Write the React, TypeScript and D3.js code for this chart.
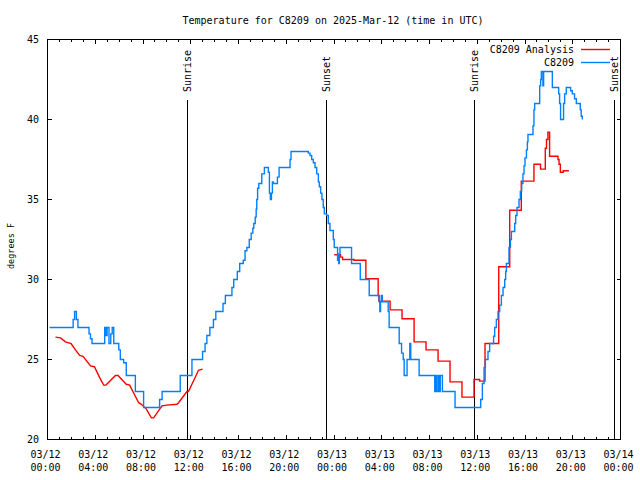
import React from "react";
import * as d3 from "d3";

const title = "Temperature for C8209 on 2025-Mar-12 (time in UTC)";
const yLabel = "degrees F";
const seriesNames = ["C8209 Analysis", "C8209"];
const seriesColors = ["#ff0000", "#0080ff"];

// hours since 2025-03-12 00:00 UTC
const sunEvents = [
  { h: 11.7, label: "Sunrise" },
  { h: 23.36, label: "Sunset" },
  { h: 35.73, label: "Sunrise" },
  { h: 47.46, label: "Sunset" },
];

const yTicks = [20, 25, 30, 35, 40, 45];

// Observations (C8209), step data
const obsHours = [
  0.17, 2.15, 2.27, 2.42, 2.55, 3.48, 3.6, 3.73, 4.79, 4.9, 4.99, 5.15, 5.3, 5.42, 5.55,
  5.97, 6.1, 6.38, 6.6, 7.36, 8.05, 9.39, 9.6, 11.12, 12.1, 12.99, 13.2, 13.35, 13.6, 13.9,
  14.1, 14.7, 14.9, 15.45, 15.6, 15.9, 16.1, 16.4, 16.55, 16.7, 16.9, 17.06, 17.2, 17.28,
  17.4, 17.48, 17.53, 17.6, 17.7, 17.95, 18.17, 18.5, 18.59, 18.67, 18.76, 18.84, 18.92,
  19.26, 19.4, 20.32, 20.4, 21.85, 21.99, 22.13, 22.27, 22.41, 22.55, 22.69, 22.77, 22.88,
  22.99, 23.1, 23.19, 23.38, 23.52, 23.66, 23.94, 24.02, 24.3, 24.35, 24.4, 24.45, 24.5,
  25.47, 26.2, 26.95, 27.79, 27.84, 27.9, 27.96, 28.05, 28.54, 28.62, 29.46, 29.66, 29.8,
  29.88, 30.12, 30.35, 30.43, 31.13, 32.44, 32.52, 32.6, 32.73, 32.8, 32.9, 33.08, 34.14,
  36.29, 36.43, 36.57, 36.68, 36.9, 37.04, 37.37, 37.46, 37.6, 37.74, 37.88, 38.02, 38.16,
  38.3, 38.38, 38.44, 38.66, 38.78, 38.86, 39.14, 39.22, 39.33, 39.5, 39.61, 39.72, 39.83,
  39.92, 40.0, 40.12, 40.2, 40.25, 40.67, 40.75, 40.81, 41.23, 41.31, 41.37, 41.5, 41.56,
  42.29, 42.82, 42.9, 42.98, 43.23, 43.32, 43.46, 43.82, 43.96, 44.15, 44.3, 44.63, 44.71,
  44.8,
];
const obsTemps = [
  27.0, 27.5, 28.0, 27.5, 27.0, 26.6, 26.3, 26.0, 27.0, 26.5, 27.0, 26.0, 26.6, 27.0, 26.0,
  25.6, 25.0, 24.8, 24.0, 23.0, 22.0, 22.5, 23.0, 24.0, 25.0, 25.5, 26.0, 26.5, 27.0, 27.5,
  28.0, 28.5, 29.0, 29.5, 30.0, 30.5, 31.0, 31.2, 31.8, 32.0, 32.5, 32.9, 33.2, 33.5,
  33.9, 34.4, 35.0, 35.7, 36.0, 36.6, 37.0, 36.7, 35.4, 35.0, 35.4, 36.1, 36.0,
  36.4, 37.0, 37.5, 38.0, 37.9, 37.75, 37.5, 37.3, 37.0, 36.6, 36.1, 35.8, 35.4,
  35.0, 34.5, 34.1, 34.0, 33.5, 33.06, 32.5, 32.0, 31.2, 31.6, 31.0, 31.6, 32.0,
  31.0, 30.0, 29.0, 28.6, 28.0, 28.6, 29.0, 28.6, 28.0, 27.0, 26.0, 25.4, 25.0,
  24.0, 25.0, 26.0, 25.0, 24.0, 23.0, 24.0, 23.0, 24.0, 23.0, 24.0, 23.0, 22.0,
  22.5, 23.5, 24.5, 25.0, 25.5, 26.0, 26.45, 27.0, 27.5, 28.0, 28.4, 29.0, 29.5,
  30.0, 30.5, 31.0, 32.0, 32.5, 33.0, 33.5, 34.0, 34.5, 35.0, 35.5, 36.0, 36.6,
  37.1, 37.6, 38.1, 38.6, 39.06, 39.6, 40.6, 41.0, 42.1, 42.5, 43.0, 42.1, 43.0,
  42.0, 41.6, 41.0, 40.0, 41.0, 41.6, 42.0, 41.8, 41.6, 41.3, 41.0, 40.6, 40.2,
  40.0,
];

// Analysis, day 1 (linear)
const anaHours1 = [
  0.67, 1.09, 1.5, 1.98, 2.34, 2.7, 2.98, 3.6, 3.93, 4.38, 4.71, 4.9, 5.69, 5.91, 6.6,
  6.88, 7.64, 7.86, 8.28, 8.7, 8.89, 9.59, 10.0, 10.84, 10.98, 11.68, 11.81, 12.65, 12.99,
];
const anaTemps1 = [
  26.4, 26.35, 26.1, 26.0, 25.6, 25.25, 25.2, 24.6, 24.55, 23.85, 23.4, 23.4, 24.0, 24.0,
  23.45, 23.4, 22.3, 22.2, 21.9, 21.35, 21.35, 22.1, 22.15, 22.2, 22.3, 23.0, 23.0, 24.33, 24.4,
];

// Analysis, day 2 (steps)
const anaHours2 = [
  24.02, 24.55, 24.72, 25.67, 26.67, 27.7, 27.76, 28.7, 29.7, 30.71, 31.71, 32.72, 33.72,
  34.72, 35.73, 36.2, 36.65, 37.8, 38.72, 39.69, 40.75, 41.3, 41.7, 41.8, 41.92, 42.06,
  42.76, 42.85, 42.96, 43.2, 43.68,
];
const anaTemps2 = [
  31.55, 31.4, 31.25, 31.2, 30.05, 29.0, 28.65, 28.1, 27.55, 26.1, 25.6, 24.9, 23.6,
  22.65, 23.75, 23.65, 26.0, 30.8, 34.33, 36.15, 37.2, 36.9, 38.2, 38.75, 39.2, 37.7,
  37.5, 37.2, 36.7, 36.8, 36.8,
];

const T0 = Date.UTC(2025, 2, 12, 0, 0);
const toDate = (h: number) => new Date(T0 + h * 3600000);

const W = 640;
const H = 480;
const L = 47.5, R = 620.5, T = 39.5, B = 439.5;
const FONT = "'DejaVu Sans Mono', monospace";

export default function App() {
  const x = d3.scaleUtc().domain([toDate(0), toDate(48)]).range([L, R]);
  const y = d3.scaleLinear().domain([20, 45]).range([B, T]);

  const major = x.ticks(d3.utcHour.every(4) as any);
  const minor = x.ticks(d3.utcHour.every(1) as any);
  const fmtD = d3.utcFormat("%m/%d");
  const fmtT = d3.utcFormat("%H:%M");

  type P = [number, number];
  const zip = (hs: number[], vs: number[]): P[] => hs.map((h, i) => [h, vs[i]]);
  const stepLine = d3
    .line<P>()
    .x((d) => x(toDate(d[0])))
    .y((d) => y(d[1]))
    .curve(d3.curveStepAfter);
  const linLine = d3
    .line<P>()
    .x((d) => x(toDate(d[0])))
    .y((d) => y(d[1]));

  const obs = zip(obsHours, obsTemps);
  const ana1 = zip(anaHours1, anaTemps1);
  const ana2 = zip(anaHours2, anaTemps2);

  return (
    <svg width={W} height={H} style={{ position: "absolute", left: 0, top: 0, background: "#fff" }}>
      <rect x={0} y={0} width={W} height={H} fill="#fff" />
      <text x={333} y={24} textAnchor="middle" fontFamily={FONT} fontSize={10} fill="#000">
        {title}
      </text>
      {/* y ticks */}
      {yTicks.map((v) => (
        <g key={"y" + v}>
          <line x1={L} x2={L + 4} y1={y(v)} y2={y(v)} stroke="#000" shapeRendering="crispEdges" />
          <line x1={R} x2={R - 4} y1={y(v)} y2={y(v)} stroke="#000" shapeRendering="crispEdges" />
          <text x={39} y={y(v)} dy="0.35em" textAnchor="end" fontFamily={FONT} fontSize={10} fill="#000">
            {v}
          </text>
        </g>
      ))}
      {/* x ticks */}
      {minor.map((d, i) => (
        <g key={"m" + i}>
          <line x1={x(d)} x2={x(d)} y1={B} y2={B - 2.5} stroke="#000" shapeRendering="crispEdges" />
          <line x1={x(d)} x2={x(d)} y1={T} y2={T + 2.5} stroke="#000" shapeRendering="crispEdges" />
        </g>
      ))}
      {major.map((d, i) => (
        <g key={"M" + i}>
          <line x1={x(d)} x2={x(d)} y1={B} y2={B - 4.5} stroke="#000" shapeRendering="crispEdges" />
          <line x1={x(d)} x2={x(d)} y1={T} y2={T + 4.5} stroke="#000" shapeRendering="crispEdges" />
          <text x={x(d) - 2} y={458} textAnchor="middle" fontFamily={FONT} fontSize={10} fill="#000">
            {fmtD(d)}
          </text>
          <text x={x(d) - 2} y={471} textAnchor="middle" fontFamily={FONT} fontSize={10} fill="#000">
            {fmtT(d)}
          </text>
        </g>
      ))}
      {/* y label */}
      <text
        transform={`translate(11,246) rotate(-90)`}
        textAnchor="middle"
        dy="0.35em"
        fontFamily={FONT}
        fontSize={8.5}
        fill="#000"
      >
        {yLabel}
      </text>
      {/* sun events */}
      {sunEvents.map((s, i) => {
        const sx = Math.round(x(toDate(s.h))) + 0.5;
        return (
          <g key={"s" + i}>
            <line x1={sx} x2={sx} y1={100} y2={B} stroke="#000" shapeRendering="crispEdges" />
            <text
              transform={`translate(${sx},92) rotate(-90)`}
              textAnchor="start"
              dy="0.35em"
              fontFamily={FONT}
              fontSize={10}
              fill="#000"
            >
              {s.label}
            </text>
          </g>
        );
      })}
      {/* series */}
      <path d={linLine(ana1) || ""} fill="none" stroke={seriesColors[0]} strokeWidth={1.4} />
      <path d={stepLine(ana2) || ""} fill="none" stroke={seriesColors[0]} strokeWidth={1.4} />
      <path d={stepLine(obs) || ""} fill="none" stroke={seriesColors[1]} strokeWidth={1.4} />
      {/* legend */}
      {seriesNames.map((n, i) => (
        <g key={"l" + i}>
          <text x={574} y={49 + i * 13} dy="0.35em" textAnchor="end" fontFamily={FONT} fontSize={10} fill="#000">
            {n}
          </text>
          <line x1={581} x2={610} y1={49.5 + i * 13} y2={49.5 + i * 13} stroke={seriesColors[i]} strokeWidth={1.4} />
        </g>
      ))}
      {/* border */}
      <rect x={L} y={T} width={R - L} height={B - T} fill="none" stroke="#000" shapeRendering="crispEdges" />
    </svg>
  );
}
